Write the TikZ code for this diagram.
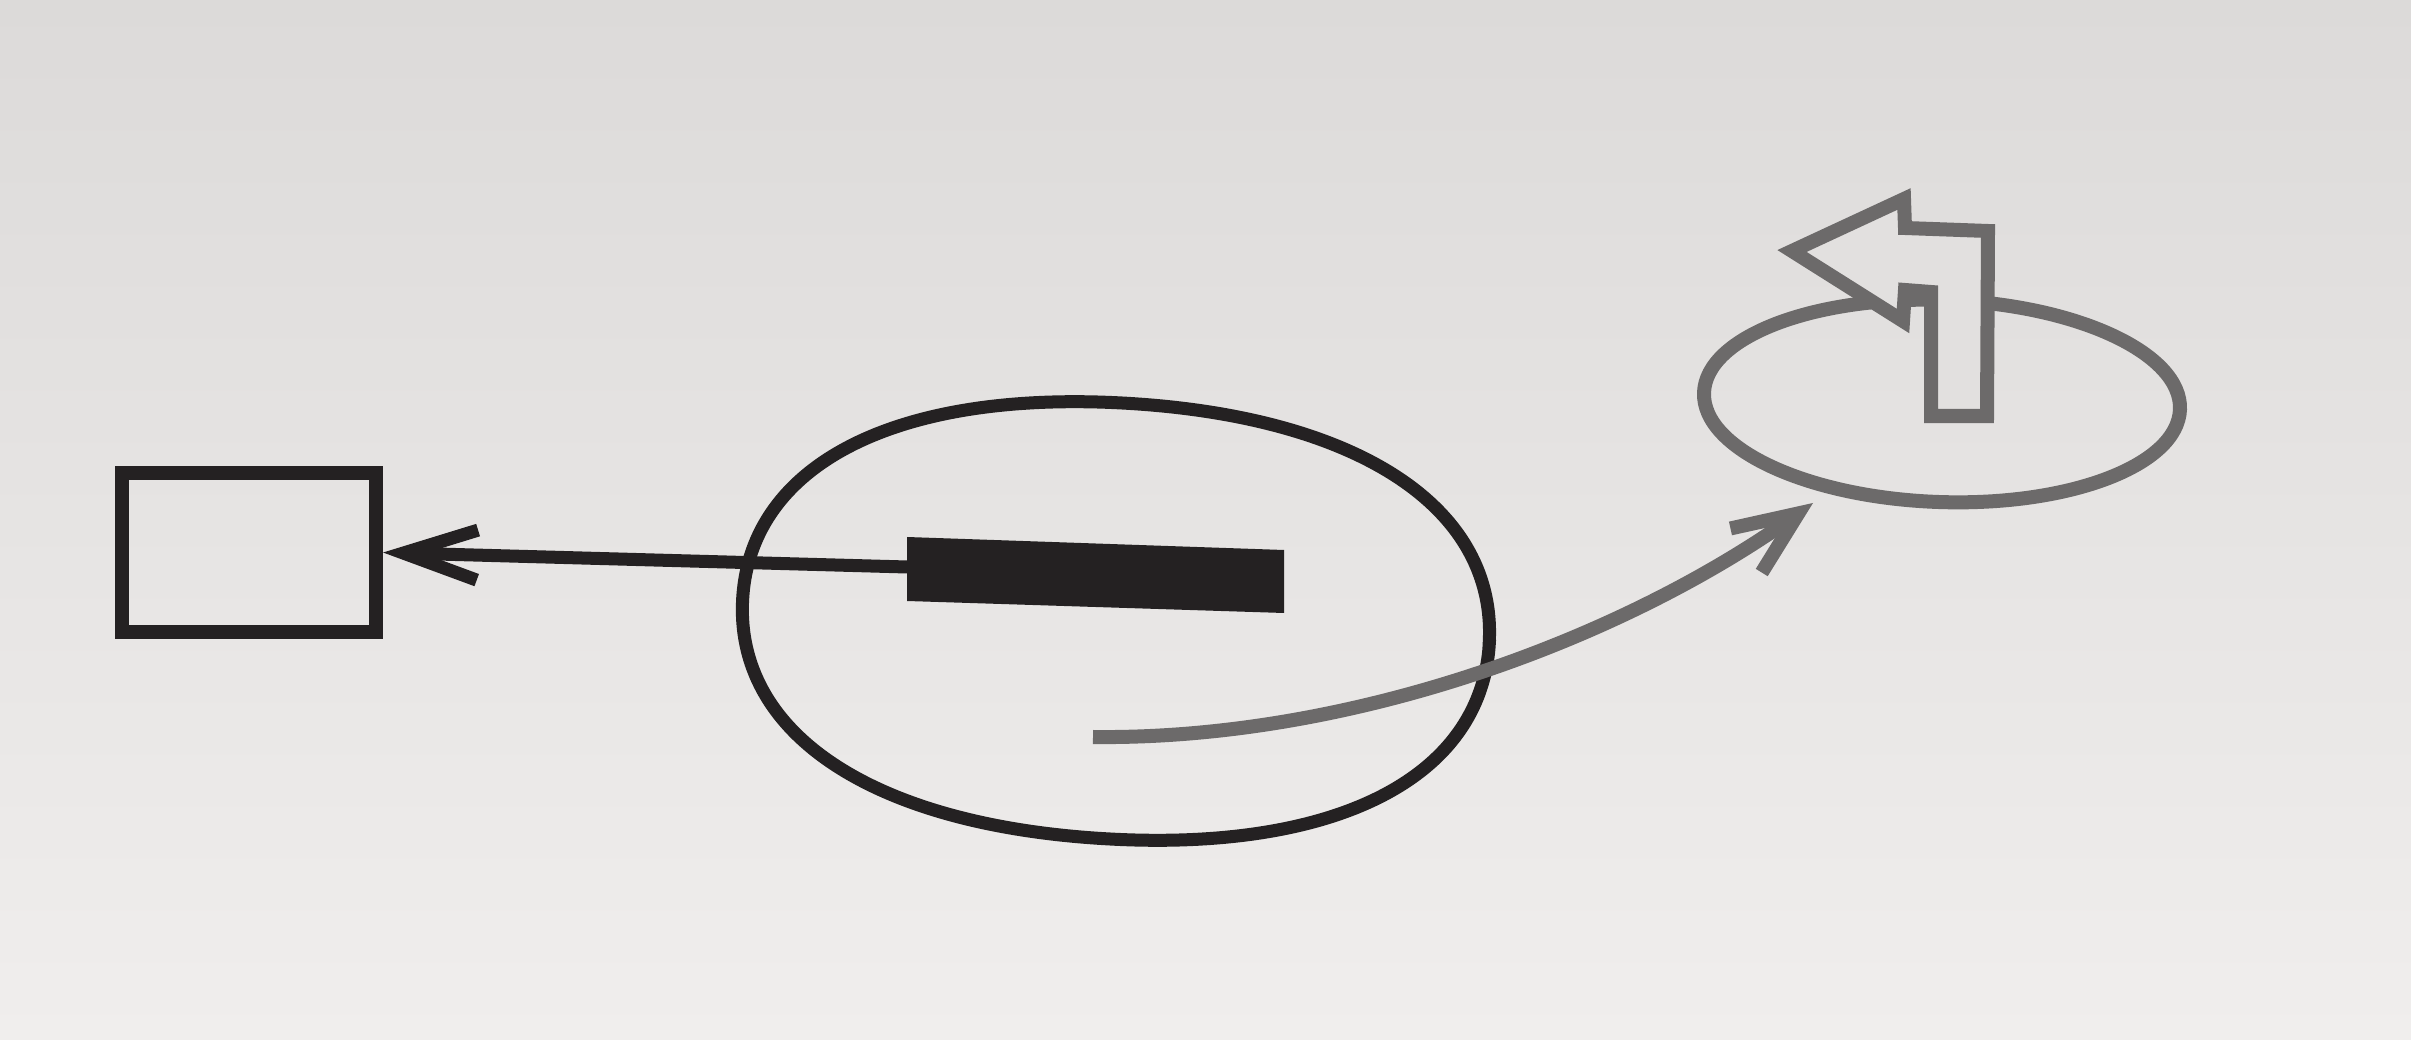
\documentclass[tikz,border=0pt]{standalone}
\usetikzlibrary{arrows.meta,shapes.geometric}
\definecolor{papertop}{RGB}{220,218,217}
\definecolor{paperbot}{RGB}{240,238,237}
\definecolor{arrowfill}{RGB}{226,224,223}
\definecolor{ink}{RGB}{36,33,34}
\definecolor{halftone}{RGB}{108,106,106}
\begin{document}
\begin{tikzpicture}[x=0.01cm,y=-0.01cm,
  box/.style={draw=ink,line width=0.14cm,inner sep=0pt,minimum width=2.54cm,minimum height=1.59cm},
  inkline/.style={draw=ink,line width=0.13cm},
  grayline/.style={draw=halftone,line width=0.14cm},
  loopell/.style={ellipse,grayline,inner sep=0pt,minimum width=4.76cm,minimum height=2.02cm}]
\shade[top color=papertop,bottom color=paperbot] (0,0) rectangle (2411,1040);
\useasboundingbox (0,0) rectangle (2411,1040);

% large ellipse
\draw[inkline,rotate around={-3.5:(1116,621)}]
  (1490,621) .. controls (1490,756) and (1348,839) .. (1116,839)
  .. controls (884,839) and (742,756) .. (742,621)
  .. controls (742,486) and (884,403) .. (1116,403)
  .. controls (1348,403) and (1490,486) .. cycle;

% rectangle and bar
\node[box] (rect) at (249,552.5) {};
\fill[ink] (907,537) -- (1284,550) -- (1284,613) -- (907,601) -- cycle;
\coordinate (barwest) at (907,567);
\draw[inkline,-{Straight Barb[length=0.74cm,width=0.5cm]}] (barwest) -- (rect.east);

% small ellipse with turning arrow
\node[loopell,rotate=-2] (loop) at (1942,401) {};
\draw[grayline,fill=arrowfill,line join=miter]
  (1792,251) -- (1904,199) -- (1905,228) -- (1988,231) -- (1987,416)
  -- (1931,416) -- (1931,292) -- (1905,290) -- (1903,321) -- cycle;

% curved gray arrow
\coordinate (cs) at (1093,737);
\coordinate (ce) at (1813,503);
\draw[grayline,-{Straight Barb[length=0.64cm,width=0.54cm]}]
  (cs) .. controls (1350,740) and (1620,640) .. (ce);
\end{tikzpicture}
\end{document}
